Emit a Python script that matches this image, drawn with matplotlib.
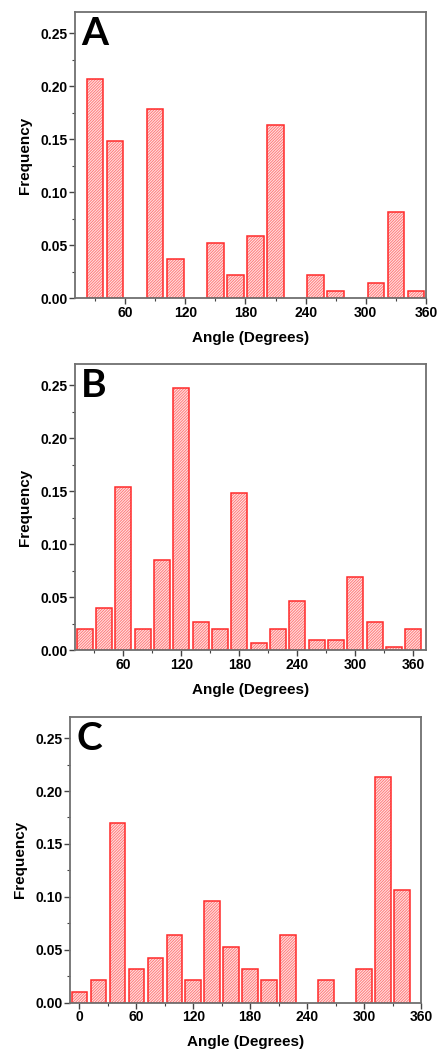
import matplotlib.pyplot as plt
from matplotlib.ticker import MultipleLocator, FormatStrFormatter

# panel A
angles_a = [30, 50, 90, 110, 150, 170, 190, 210, 250, 270, 310, 330, 350]
freq_a = [0.207, 0.148, 0.178, 0.037, 0.052, 0.022, 0.059, 0.163, 0.022, 0.007, 0.0145, 0.081, 0.007]

# panel B
angles_b = [20, 40, 60, 80, 100, 120, 140, 160, 180, 200, 220, 240, 260, 280, 300, 320, 340, 360]
freq_b = [0.020, 0.040, 0.154, 0.020, 0.085, 0.247, 0.026, 0.020, 0.148, 0.0065, 0.020, 0.046,
          0.0096, 0.0096, 0.069, 0.026, 0.003, 0.020]

# panel C
angles_c = [0, 20, 40, 60, 80, 100, 120, 140, 160, 180, 200, 220, 260, 300, 320, 340]
freq_c = [0.0105, 0.021, 0.170, 0.032, 0.0425, 0.064, 0.021, 0.096, 0.053, 0.032, 0.021, 0.064,
          0.021, 0.032, 0.213, 0.106]

panels = [
    ("A", angles_a, freq_a, (10, 360), [0.1712, 0.7167, 0.8014, 0.2719]),
    ("B", angles_b, freq_b, (10, 373), [0.1712, 0.3821, 0.8014, 0.2719]),
    ("C", angles_c, freq_c, (-10, 360), [0.1598, 0.0469, 0.8014, 0.2716]),
]

plt.rcParams["font.family"] = ["Liberation Sans", "DejaVu Sans"]
plt.rcParams["hatch.linewidth"] = 0.7

fig = plt.figure(figsize=(4.38, 10.52), dpi=100)

for letter, angles, freq, xlim, rect in panels:
    ax = fig.add_axes(rect)
    # hatched fill first, then the red outline on top
    ax.bar(angles, freq, width=16.5, facecolor="#ffe6e6", edgecolor="#ff7a7a",
           linewidth=0, hatch="/" * 12)
    ax.bar(angles, freq, width=16.5, fill=False, edgecolor="#ff2a2a", linewidth=1.1)
    ax.set_xlim(*xlim)
    ax.set_ylim(0, 0.27)
    ax.xaxis.set_major_locator(MultipleLocator(60))
    ax.xaxis.set_minor_locator(MultipleLocator(30))
    ax.yaxis.set_major_locator(MultipleLocator(0.05))
    ax.yaxis.set_minor_locator(MultipleLocator(0.025))
    ax.yaxis.set_major_formatter(FormatStrFormatter("%.2f"))
    ax.tick_params(which="major", direction="out", length=4, width=1, color="#444444",
                   labelsize=10, pad=1.5)
    ax.tick_params(which="minor", direction="out", length=2.5, width=0.8, color="#444444")
    for lab in ax.get_xticklabels() + ax.get_yticklabels():
        lab.set_fontweight("bold")
    for sp in ax.spines.values():
        sp.set_color("#707070")
        sp.set_linewidth(1.3)
    ax.set_xlabel("Angle (Degrees)", fontsize=11, fontweight="bold", labelpad=8)
    ax.set_ylabel("Frequency", fontsize=11, fontweight="bold", labelpad=6)
    ax.text(0.018, 0.985, letter, transform=ax.transAxes, ha="left", va="top",
            fontsize=28, fontweight="bold", family=["Lato", "DejaVu Sans"])

fig.savefig("out.png", dpi=100)
